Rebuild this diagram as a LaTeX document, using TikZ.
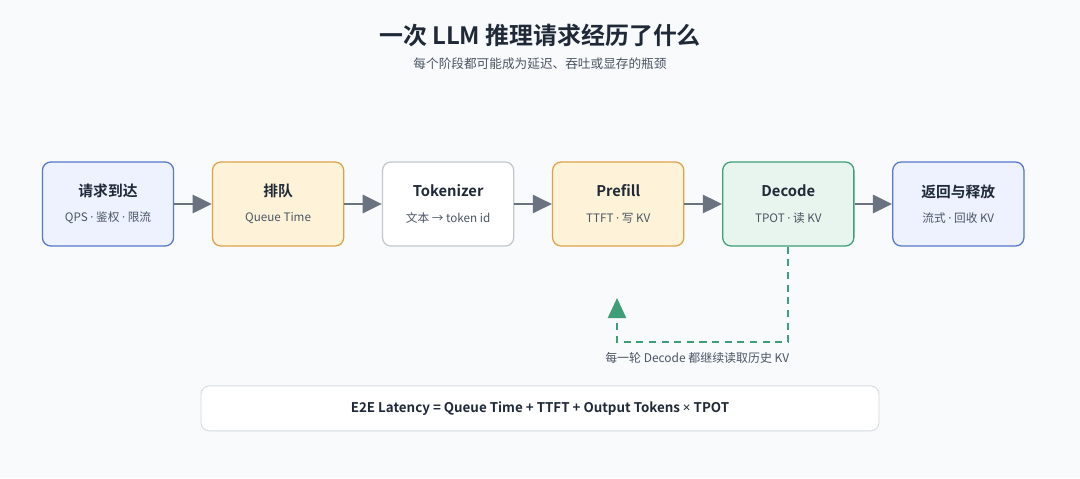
\documentclass[tikz,border=0pt]{standalone}
\usepackage{fontspec}
\setmainfont{Noto Sans CJK SC}[BoldFont={Noto Sans CJK SC Bold}]
\newfontfamily\latinf{Noto Sans}
\usepackage{tikz}
\usetikzlibrary{positioning,arrows.meta}
\definecolor{bgc}{HTML}{F8FAFC}
\definecolor{tx}{HTML}{1F2937}
\definecolor{subtx}{HTML}{4B5563}
\definecolor{arrc}{HTML}{6B7280}
\definecolor{bluefill}{HTML}{EEF2FF}
\definecolor{blueline}{HTML}{5577D0}
\definecolor{ylwfill}{HTML}{FEF3D8}
\definecolor{ylwline}{HTML}{DDA24A}
\definecolor{grayline}{HTML}{C3C7CF}
\definecolor{grnfill}{HTML}{E7F5EE}
\definecolor{grnline}{HTML}{3E9E78}
\newcommand{\stage}[2]{{\fontsize{10.5}{12}\selectfont\bfseries #1}\\[6pt]{\fontsize{8.3}{10}\selectfont\color{subtx}#2}}
\newcommand{\md}{\ {\latinf ·}\ }

\begin{document}
\begin{tikzpicture}[
  node distance=1cm and 0.94cm,
  mybox/.style={draw,rounded corners=6pt,line width=0.9pt,minimum width=3.28cm,minimum height=2.1cm,align=center,text=tx},
  myboxb/.style={mybox,fill=bluefill,draw=blueline},
  myboxy/.style={mybox,fill=ylwfill,draw=ylwline},
  myboxw/.style={mybox,fill=white,draw=grayline},
  myboxg/.style={mybox,fill=grnfill,draw=grnline},
  flow/.style={arrc,line width=2.1pt,-{Triangle[length=0.48cm,width=0.45cm]}}
]
\fill[bgc] (0,0) rectangle (27,-11.95);
\useasboundingbox (0,0) rectangle (27,-11.95);

\node[text=tx,font=\fontsize{17}{20}\selectfont\bfseries] (title) at (13.5,-0.875) {一次 LLM 推理请求经历了什么};
\node[text=subtx,font=\fontsize{9}{11}\selectfont] (subtitle) at (13.5,-1.6) {每个阶段都可能成为延迟、吞吐或显存的瓶颈};

\node[myboxb] (req) at (2.7,-5.1) {\stage{请求到达}{QPS\md 鉴权\md 限流}};
\node[myboxy, right=of req] (queue) {\stage{排队}{Queue Time}};
\node[myboxw, right=of queue] (tok) {\stage{Tokenizer}{文本 → token id}};
\node[myboxy, right=of tok] (pre) {\stage{Prefill}{TTFT\md 写 KV}};
\node[myboxg, right=of pre] (dec) {\stage{Decode}{TPOT\md 读 KV}};
\node[myboxb, right=of dec] (ret) {\stage{返回与释放}{流式\md 回收 KV}};

\draw[flow] (req) -- (queue);
\draw[flow] (queue) -- (tok);
\draw[flow] (tok) -- (pre);
\draw[flow] (pre) -- (dec);
\draw[flow] (dec) -- (ret);

% decode loop back
\coordinate (loopcorner) at (15.425,-8.55);
\coordinate (tipbase) at (15.425,-7.95);
\coordinate (loopend) at (15.425,-7.45);
\draw[grnline,line width=1.6pt,dash pattern=on 5pt off 4pt]
  (dec.south) |- (loopcorner) -- (tipbase);
\draw[grnline,line width=1.6pt,-{Triangle[length=0.5cm,width=0.45cm]}] (tipbase) -- (loopend);
\node[text=subtx,font=\fontsize{8.5}{10}\selectfont] (looplbl) at (17.43,-8.95) {每一轮 Decode 都继续读取历史 KV};

\node[draw=grayline!70,fill=white,rounded corners=6pt,line width=0.6pt,minimum width=16.95cm,minimum height=1.125cm,text=tx,font=\fontsize{9.5}{11}\selectfont\bfseries] (e2e) at (13.5,-10.21) {E2E Latency = Queue Time + TTFT + Output Tokens {\latinf\bfseries ×} TPOT};
\end{tikzpicture}
\end{document}
